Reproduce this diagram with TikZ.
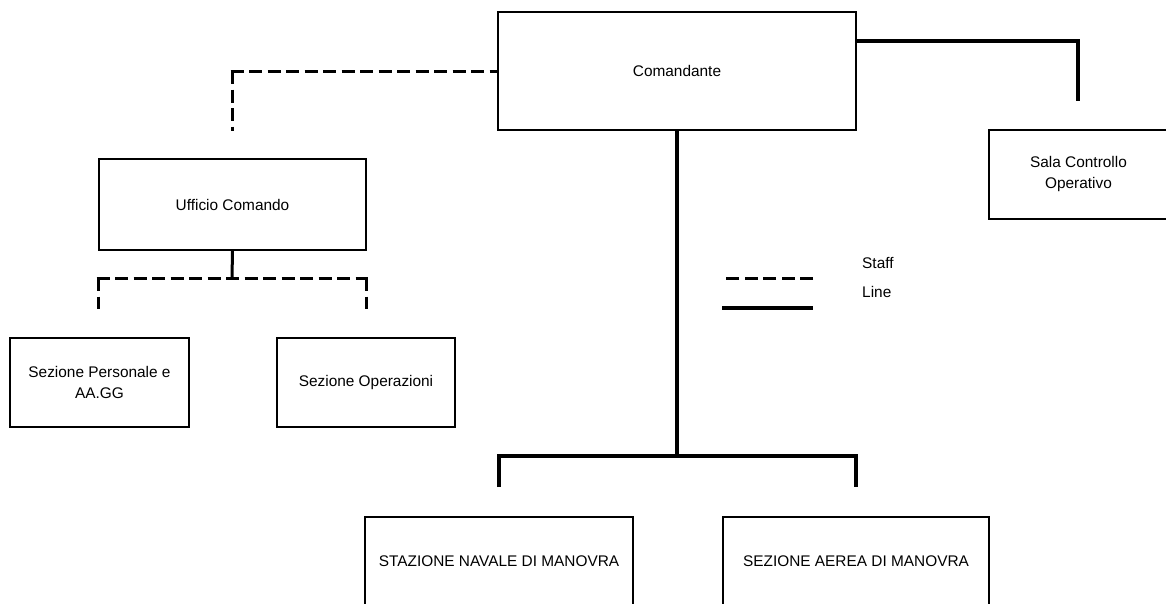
\documentclass[tikz,border=0pt]{standalone}
\usepackage{fontspec}
\setmainfont{Liberation Sans}
\usetikzlibrary{calc}
\begin{document}
\begin{tikzpicture}[x=1pt,y=-1pt,
  box/.style={draw, line width=2pt, inner sep=0pt, align=center, font=\fontsize{15.4}{21}\selectfont},
  linec/.style={line width=4pt},
  thinline/.style={line width=3pt},
  staff/.style={line width=3pt, dash pattern=on 13pt off 5.5pt},
  lbl/.style={anchor=west, inner sep=0pt, font=\fontsize{15.4}{21}\selectfont}]
\useasboundingbox (0,0) rectangle (1166,603);
\fill[white] (0,0) rectangle (1166,603);
\clip (0,0) rectangle (1166,603);

% boxes
\node[box, minimum width=358pt, minimum height=118pt] (cmd) at (677,71) {Comandante};
\node[box, minimum width=267pt, minimum height=91pt] (uc) at (232.5,204.5) {Ufficio Comando};
\node[box, minimum width=179pt, minimum height=89pt] (sp) at (99.5,382.5) {Sezione Personale e\\AA.GG};
\node[box, minimum width=178pt, minimum height=89pt] (so) at (366,382.5) {Sezione Operazioni};
\node[box, minimum width=179pt, minimum height=89pt] (sala) at (1078.5,174.5) {Sala Controllo\\Operativo};
\node[box, minimum width=268pt, minimum height=88pt] (staz) at (499,561) {STAZIONE NAVALE DI MANOVRA};
\node[box, minimum width=266pt, minimum height=88pt] (aerea) at (856,561) {SEZIONE AEREA DI MANOVRA};

% free ends
\coordinate (ucT) at (232,131);
\coordinate (salaT) at (1078,101);
\coordinate (bar) at (677,456);
\coordinate (stazT) at (499,487);
\coordinate (aereaT) at (856,487);
\coordinate (ucbar) at (232,278);
\coordinate (spT) at (98,309);
\coordinate (soT) at (366,309);

% staff link Comandante -> Ufficio Comando
\draw[staff] ([xshift=-1.5pt]ucT |- cmd.west) -- (cmd.west);
\draw[staff] (ucT |- cmd.west) -- (ucT);

% line link Comandante -> Sala Controllo
\draw[linec] ($(cmd.north east)!0.25!(cmd.south east)$) -| (salaT);

% line links Comandante -> bottom units
\draw[linec] (cmd.south) -- (bar);
\draw[linec] (stazT) |- (bar) -| (aereaT);

% Ufficio Comando -> sections
\draw[thinline] (uc.south) -- (ucbar);
\draw[staff] ([xshift=-1.5pt]spT |- ucbar) -- ([xshift=1.5pt]soT |- ucbar);
\draw[staff] (spT |- ucbar) -- (spT);
\draw[staff] (soT |- ucbar) -- (soT);

% legend
\coordinate (lsA) at (721,278);
\coordinate (lsB) at (813,278);
\coordinate (llA) at (722,308);
\coordinate (llB) at (813,308);
\draw[staff] (lsB) -- (lsA);
\draw[linec] (llA) -- (llB);
\node[lbl] (staffl) at (862,263) {Staff};
\node[lbl] (linel) at (862,292) {Line};
\end{tikzpicture}
\end{document}
